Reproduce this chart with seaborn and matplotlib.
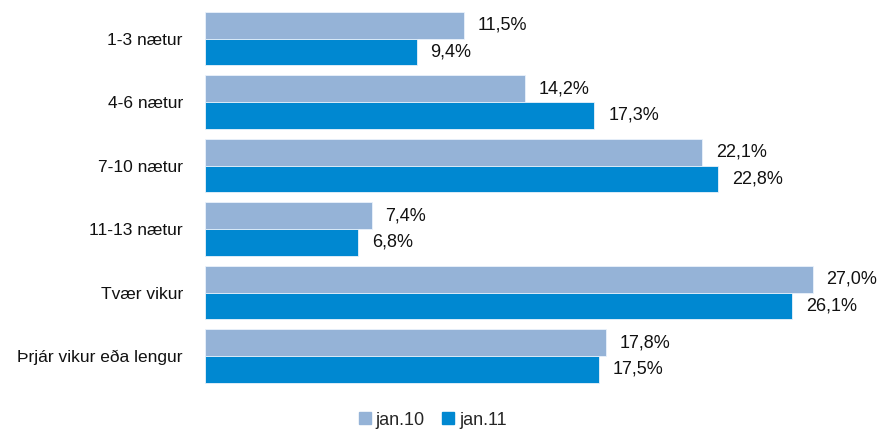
import pandas as pd
import seaborn as sns
import matplotlib.pyplot as plt

categories = ["1-3 nætur", "4-6 nætur", "7-10 nætur", "11-13 nætur", "Tvær vikur", "Þrjár vikur eða lengur"]
jan10 = [11.5, 14.2, 22.1, 7.4, 27.0, 17.8]
jan11 = [9.4, 17.3, 22.8, 6.8, 26.1, 17.5]
series = ["jan.10", "jan.11"]
colors = ["#95B3D7", "#0088D1"]

df = pd.DataFrame({
    "flokkur": categories * 2,
    "hlutfall": jan10 + jan11,
    "tímabil": [series[0]] * len(categories) + [series[1]] * len(categories),
})

sns.set_style("white")
plt.rcParams["font.family"] = ["Liberation Sans", "DejaVu Sans"]

fig = plt.figure(figsize=(8.8, 4.32), dpi=100)
ax = fig.add_axes([0.233, 0.1025, 0.767, 0.8815])

sns.barplot(data=df, y="flokkur", x="hlutfall", hue="tímabil", palette=colors,
            saturation=1, orient="h", width=0.84, edgecolor="#eaf2fb", linewidth=0.6, ax=ax)

# gildin með kommu sem tugabrot
for cont in ax.containers:
    ax.bar_label(cont, labels=[f"{v:.1f}".replace(".", ",") + "%" for v in cont.datavalues],
                 padding=10, fontsize=13, color="#111111")

ax.set_xlim(0, 30)
ax.set_ylim(5.5, -0.5)
ax.set_xlabel("")
ax.set_ylabel("")
ax.set_xticks([])
ax.tick_params(axis="y", length=0, pad=16, labelsize=12.5, labelcolor="#111111")
for s in ax.spines.values():
    s.set_visible(False)

ax.get_legend().remove()
handles = [plt.Line2D([], [], marker="s", linestyle="", markersize=9, color=c) for c in colors]
fig.legend(handles, series, loc="lower center", bbox_to_anchor=(0.49, -0.03), ncol=2,
           frameon=False, fontsize=13, handletextpad=0.1, columnspacing=0.8, handlelength=1.0)

fig.savefig("out.png", dpi=100)
